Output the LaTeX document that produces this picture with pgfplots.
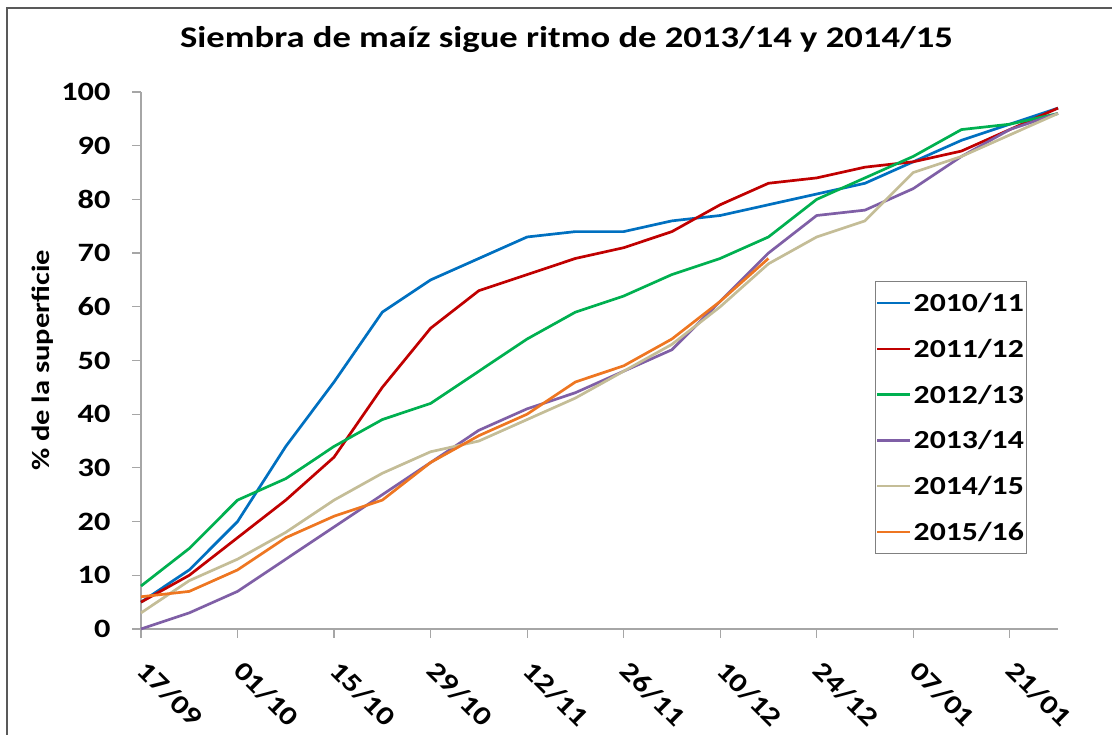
\documentclass[border=0pt]{standalone}
\usepackage{fontspec}
\setmainfont{Carlito}[FakeStretch=1.22]
\usepackage{pgfplots}
\pgfplotsset{compat=1.18}
\definecolor{c1}{HTML}{0070C0}
\definecolor{c2}{HTML}{C00000}
\definecolor{c3}{HTML}{00B050}
\definecolor{c4}{HTML}{7F5FA6}
\definecolor{c5}{HTML}{C4BD97}
\definecolor{c6}{HTML}{EE7621}
\definecolor{axgray}{HTML}{A6A6A6}
\begin{document}
\begin{tikzpicture}[x=1pt,y=1pt]
\useasboundingbox (0,0) rectangle (1112,735);
\draw[gray!70!black, line width=1.5pt] (7,0) -- (7,727) -- (1112,727);
\begin{axis}[
  at={(141pt,106pt)}, anchor=south west,
  scale only axis, width=917pt, height=537pt,
  xmin=0, xmax=19, ymin=0, ymax=100,
  axis x line*=bottom, axis y line*=left,
  axis line style={axgray, line width=1.5pt, -},
  tick align=outside, major tick length=9pt,
  tick style={axgray, line width=1.2pt},
  xtick={0,2,...,18},
  xticklabels={17/09,01/10,15/10,29/10,12/11,26/11,10/12,24/12,07/01,21/01},
  ytick={0,10,...,100},
  /pgf/number format/assume math mode=true,
  tick label style={font=\fontsize{26.5}{30}\selectfont\bfseries, text=black},
  yticklabel style={anchor=east, xshift=-18pt},
  xticklabel style={yshift=-16pt, xshift=8pt, rotate=-45, anchor=north west},
  ylabel={\% de la superficie},
  ylabel style={font=\fontsize{25}{28}\selectfont\bfseries, at={(axis description cs:-0.1069,0.5)}, anchor=center},
  title={Siembra de maíz sigue ritmo de 2013/14 y 2014/15},
  title style={font=\fontsize{30}{34}\selectfont\bfseries, at={(axis description cs:0.5,1)}, anchor=base, yshift=38.7pt, xshift=-33pt},
  legend style={at={(axis description cs:0.800,0.6475)}, anchor=north west,
    draw=gray, line width=1pt, font=\fontsize{26}{30}\selectfont\bfseries,
    row sep=22pt, inner xsep=1pt, inner ysep=9.5pt},
  legend cell align=left,
  legend image code/.code={\draw[#1, line width=2.6pt] (0pt,0pt) -- (33pt,0pt);},
  every axis plot/.append style={line width=2.7pt, line join=round},
  clip=false,
]
\addplot[c1] coordinates {(0,5)(1,11)(2,20)(3,34)(4,46)(5,59)(6,65)(7,69)(8,73)(9,74)(10,74)(11,76)(12,77)(13,79)(14,81)(15,83)(16,87)(17,91)(18,94)(19,97)};
\addplot[c2] coordinates {(0,5)(1,10)(2,17)(3,24)(4,32)(5,45)(6,56)(7,63)(8,66)(9,69)(10,71)(11,74)(12,79)(13,83)(14,84)(15,86)(16,87)(17,89)(18,93)(19,97)};
\addplot[c3] coordinates {(0,8)(1,15)(2,24)(3,28)(4,34)(5,39)(6,42)(7,48)(8,54)(9,59)(10,62)(11,66)(12,69)(13,73)(14,80)(15,84)(16,88)(17,93)(18,94)(19,96)};
\addplot[c4] coordinates {(0,0)(1,3)(2,7)(3,13)(4,19)(5,25)(6,31)(7,37)(8,41)(9,44)(10,48)(11,52)(12,61)(13,70)(14,77)(15,78)(16,82)(17,88)(18,93)(19,96)};
\addplot[c5] coordinates {(0,3)(1,9)(2,13)(3,18)(4,24)(5,29)(6,33)(7,35)(8,39)(9,43)(10,48)(11,53)(12,60)(13,68)(14,73)(15,76)(16,85)(17,88)(18,92)(19,96)};
\addplot[c6] coordinates {(0,6)(1,7)(2,11)(3,17)(4,21)(5,24)(6,31)(7,36)(8,40)(9,46)(10,49)(11,54)(12,61)(13,69)};
\legend{2010/11,2011/12,2012/13,2013/14,2014/15,2015/16}
\end{axis}
\end{tikzpicture}
\end{document}
